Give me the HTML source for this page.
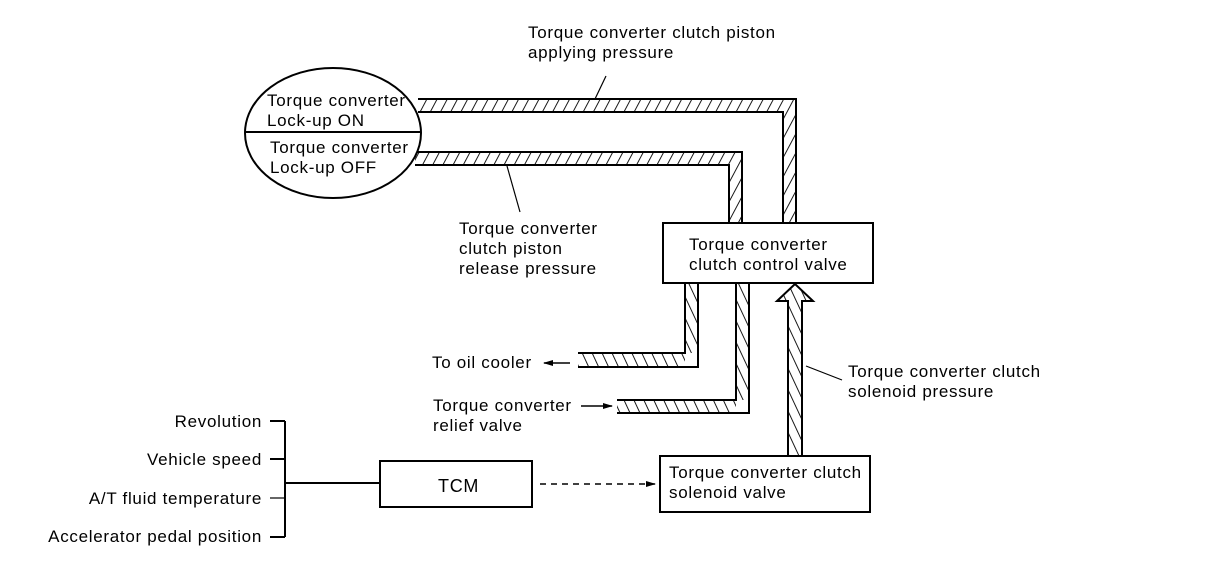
<!DOCTYPE html>
<html><head><meta charset="utf-8"><style>
html,body{margin:0;padding:0;background:#fff;}
svg{display:block;}
text{font-family:"Liberation Sans",sans-serif;font-size:17px;letter-spacing:0.7px;fill:#000;}
</style></head><body>
<svg width="1216" height="582" viewBox="0 0 1216 582" xmlns="http://www.w3.org/2000/svg">
<defs>
<pattern id="hf" patternUnits="userSpaceOnUse" width="9" height="9" patternTransform="rotate(28)">
<line x1="0" y1="0" x2="0" y2="9" stroke="#000" stroke-width="1.8"/>
</pattern>
<pattern id="hb" patternUnits="userSpaceOnUse" width="9" height="9" patternTransform="rotate(-25)">
<line x1="0" y1="0" x2="0" y2="9" stroke="#000" stroke-width="1.8"/>
</pattern>
<marker id="ar" markerWidth="10" markerHeight="8" refX="9" refY="4" orient="auto" markerUnits="userSpaceOnUse">
<path d="M0,1 L10,4 L0,7 Z" fill="#000"/>
</marker>
</defs>
<g stroke="#000" stroke-width="2" fill="none">
<path d="M418,99 H796 V223 H783 V112 H418" fill="url(#hf)" stroke="none"/>
<path d="M418,99 H796 V223 M783,223 V112 H418"/>
<path d="M415,152 H742 V223 H729 V165 H415" fill="url(#hf)" stroke="none"/>
<path d="M415,152 H742 V223 M729,223 V165 H415"/>
<ellipse cx="333" cy="133" rx="88" ry="65" fill="#fff"/>
<line x1="245" y1="132" x2="421" y2="132"/>
<rect x="663" y="223" width="210" height="60" fill="#fff"/>
<path d="M685,283 V367 H578 V353 H698 V283" fill="url(#hb)" stroke="none"/>
<path d="M685,283 V353 H578 M578,367 H698 V283"/>
<path d="M736,283 V413 H617 V400 H749 V283" fill="url(#hb)" stroke="none"/>
<path d="M736,283 V400 H617 M617,413 H749 V283"/>
<path d="M788,456 V301 H777 L795,284 L813,301 H802 V456 Z" fill="url(#hb)"/>
<rect x="660" y="456" width="210" height="56" fill="#fff"/>
<rect x="380" y="461" width="152" height="46" fill="#fff"/>
<line x1="540" y1="484" x2="655" y2="484" stroke-width="1.5" stroke-dasharray="6,5" marker-end="url(#ar)"/>
<line x1="285" y1="421" x2="285" y2="537"/>
<line x1="270" y1="421" x2="285" y2="421"/>
<line x1="270" y1="459" x2="285" y2="459"/>
<line x1="270" y1="498" x2="285" y2="498" stroke-width="1.2"/>
<line x1="270" y1="537" x2="285" y2="537"/>
<line x1="285" y1="483" x2="380" y2="483"/>
<line x1="606" y1="76" x2="595" y2="99" stroke-width="1.2"/>
<line x1="507" y1="166" x2="520" y2="212" stroke-width="1.2"/>
<line x1="842" y1="380" x2="806" y2="366" stroke-width="1.2"/>
<line x1="570" y1="363" x2="544" y2="363" stroke-width="1.5" marker-end="url(#ar)"/>
<line x1="581" y1="406" x2="612" y2="406" stroke-width="1.5" marker-end="url(#ar)"/>
</g>
<text x="528" y="38">Torque converter clutch piston</text>
<text x="528" y="58">applying pressure</text>
<text x="267" y="106">Torque converter</text>
<text x="267" y="126">Lock-up ON</text>
<text x="270" y="153">Torque converter</text>
<text x="270" y="173">Lock-up OFF</text>
<text x="459" y="234">Torque converter</text>
<text x="459" y="254">clutch piston</text>
<text x="459" y="274">release pressure</text>
<text x="689" y="250">Torque converter</text>
<text x="689" y="270">clutch control valve</text>
<text x="432" y="368">To oil cooler</text>
<text x="433" y="411">Torque converter</text>
<text x="433" y="431">relief valve</text>
<text x="848" y="377">Torque converter clutch</text>
<text x="848" y="397">solenoid pressure</text>
<text x="669" y="478">Torque converter clutch</text>
<text x="669" y="498">solenoid valve</text>
<text x="438" y="492" style="font-size:18px">TCM</text>
<text x="262" y="427" text-anchor="end">Revolution</text>
<text x="262" y="465" text-anchor="end">Vehicle speed</text>
<text x="262" y="504" text-anchor="end">A/T fluid temperature</text>
<text x="262" y="542" text-anchor="end">Accelerator pedal position</text>
</svg>
</body></html>
